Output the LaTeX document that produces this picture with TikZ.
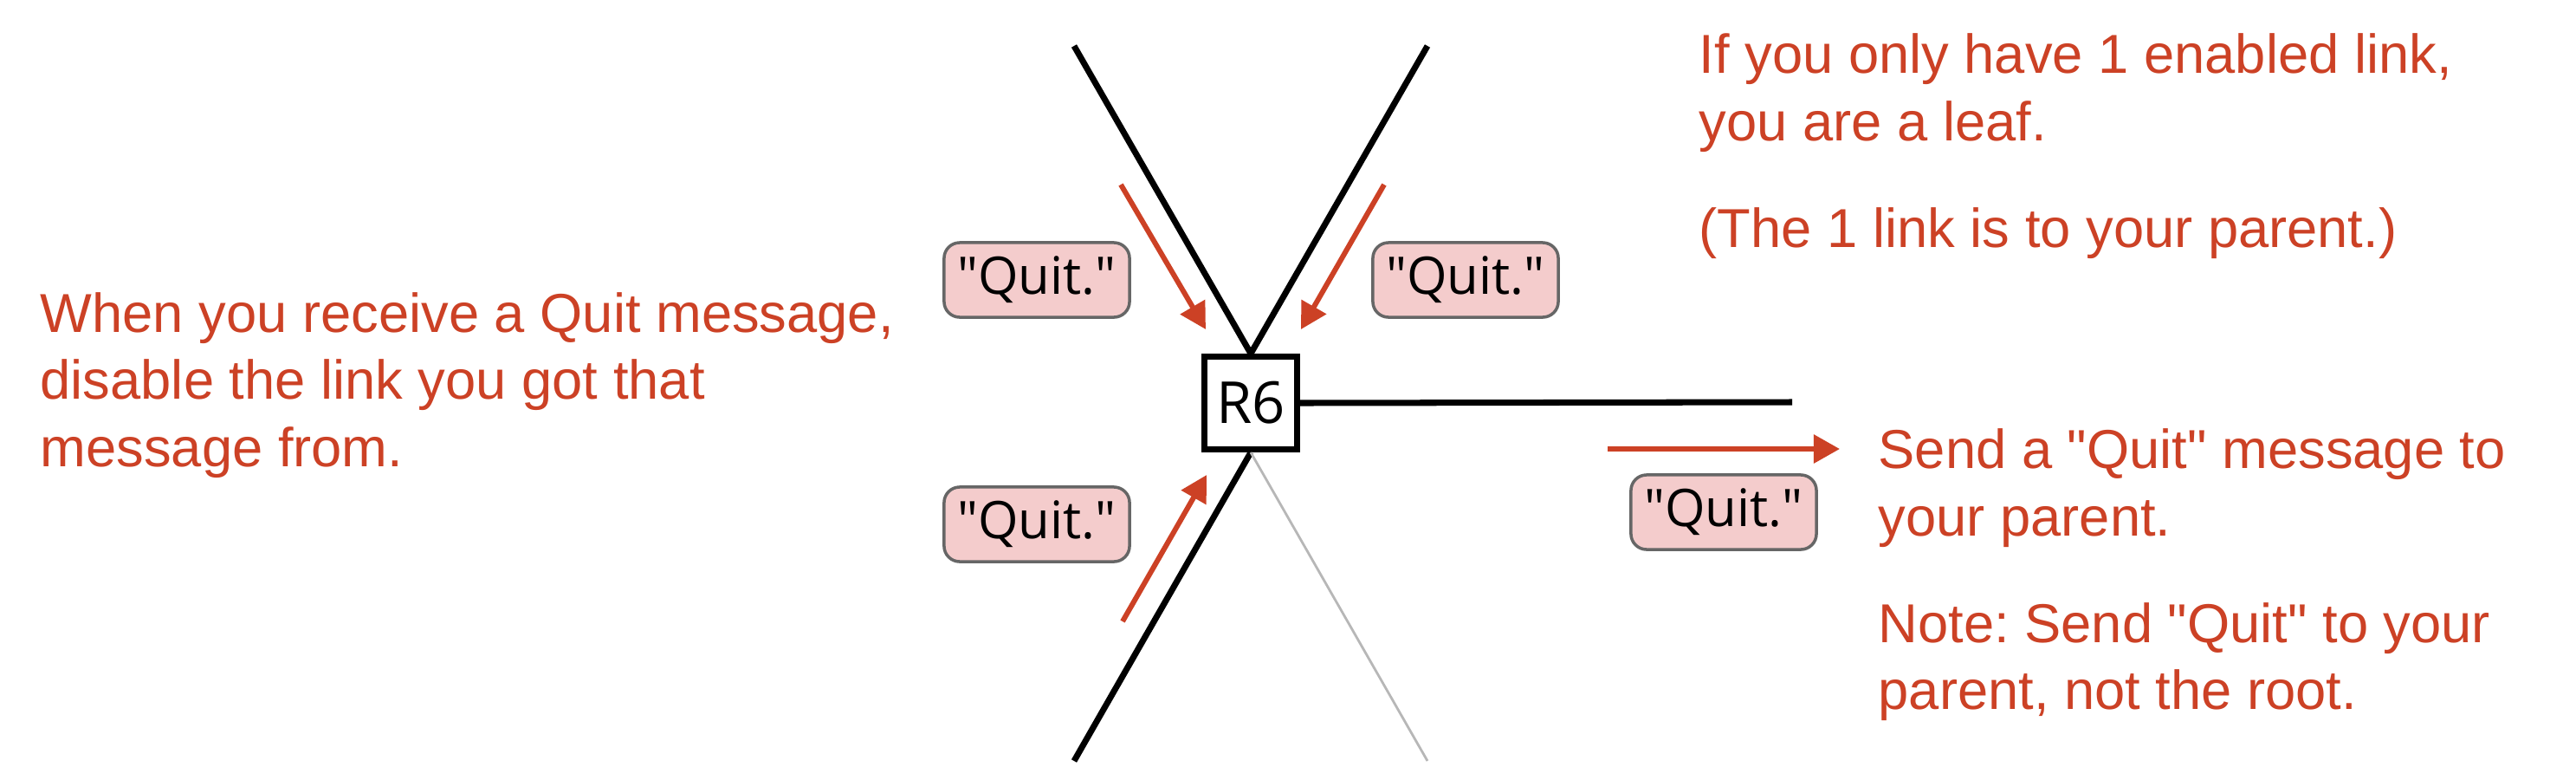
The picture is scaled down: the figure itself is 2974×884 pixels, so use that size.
\documentclass[tikz,border=0pt]{standalone}
\usepackage{fontspec}
\setmainfont{Liberation Sans}
\newfontfamily\notefont{Liberation Sans}
\newfontfamily\boxfont{Open Sans}
\frenchspacing
\usetikzlibrary{arrows.meta,positioning}
\definecolor{quitred}{RGB}{204,65,37}
\definecolor{quitpink}{RGB}{244,204,204}
\definecolor{boxgray}{RGB}{102,102,102}
\definecolor{deadgray}{RGB}{183,183,183}
\tikzset{
	router/.style={rectangle,draw,line width=2pt,fill=white,minimum size=1.07cm,inner sep=0,font=\boxfont\fontsize{19}{22}\selectfont},
	link/.style={color=black,line width=2pt},
	deadlink/.style={color=deadgray,line width=0.8pt},
	quitbox/.style={rectangle,rounded corners=0.18cm,draw=boxgray,line width=1pt,fill=quitpink,minimum width=2.14cm,minimum height=0.86cm,inner sep=0,font=\boxfont\fontsize{17}{20}\selectfont},
	msgedge/.style={->,>={Triangle[width=0.32cm,length=0.3cm]},color=quitred,line width=1.7pt},
	note/.style={text=quitred,align=left,anchor=base west,inner sep=0,font=\notefont\fontsize{18}{21.9}\selectfont}
}

\begin{document}
\begin{tikzpicture}[x=0.01cm,y=-0.01cm]
		\useasboundingbox (0,0) rectangle (2974,884);
		%%%R6 and its links
		\node[router] (r6) at (1444,465) {R6};
		\coordinate (nw) at (1240,53);
		\coordinate (ne) at (1648,53);
		\coordinate (sw) at (1240,878);
		\coordinate (se) at (1648,878);
		\coordinate (ee) at (2069,464);
		\draw[link] (r6.north) -- (nw);
		\draw[link] (r6.north) -- (ne);
		\draw[link] (r6.south) -- (sw);
		\draw[deadlink] (r6.south) -- (se);
		\draw[link] (r6.east) -- (ee);
		
		%%%% quit messages
		\node[quitbox] (qnw) at (1197,323) {"Quit."};
		\node[quitbox] (qne) at (1692,323) {"Quit."};
		\node[quitbox] (qsw) at (1197,605) {"Quit."};
		\node[quitbox] (qee) at (1990,591) {"Quit."};
		
		\coordinate (anw1) at (1294,213);
		\coordinate (anw2) at (1392,380);
		\coordinate (ane1) at (1598,213);
		\coordinate (ane2) at (1502,380);
		\coordinate (asw1) at (1296,717);
		\coordinate (asw2) at (1393,548);
		\coordinate (aee1) at (1856,518);
		\coordinate (aee2) at (2124,518);
		\draw[msgedge] (anw1) -- (anw2);
		\draw[msgedge] (ane1) -- (ane2);
		\draw[msgedge] (asw1) -- (asw2);
		\draw[msgedge] (aee1) -- (aee2);
		
		%%%% notes (placed at the baseline of their last line)
		\node[note] (receive) at (46,538) {When you receive a Quit message,\\disable the link you got that\\message from.};
		\node[note] (leaf) at (1961,162) {If you only have 1 enabled link,\\you are a leaf.};
		\node[note] (parent) at (1961,285) {(The 1 link is to your parent.)};
		\node[note] (send) at (2168,618) {Send a "Quit" message to\\your parent.};
		\node[note] (root) at (2168,818) {Note: Send "Quit" to your\\parent, not the root.};
	\end{tikzpicture}
\end{document}
